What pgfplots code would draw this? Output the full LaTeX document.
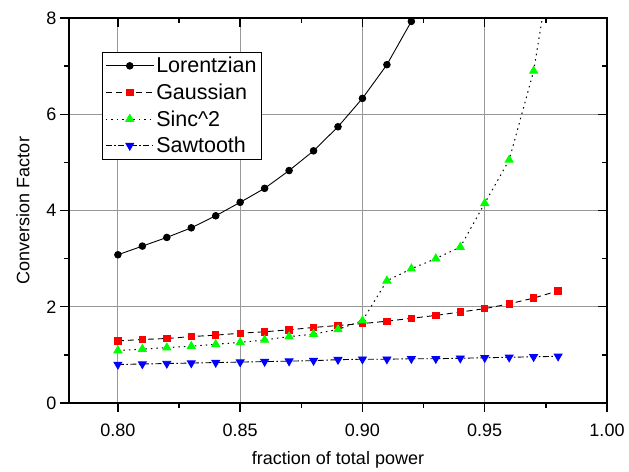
\documentclass[border=0pt]{standalone}
\usepackage{pgfplots}
\pgfplotsset{compat=1.18}
\usepackage{fontspec}
\setmainfont{Liberation Sans}
\begin{document}
\begin{tikzpicture}
\pgfplotsset{
  myaxis/.style={
    width=538pt, height=385pt, scale only axis,
    xmin=0.78, xmax=1.0, ymin=0, ymax=8,
    xtick={0.80,0.85,0.90,0.95,1.00},
    ytick={0,2,4,6,8},
    minor x tick num=1, minor y tick num=1,
    axis line style={line width=1.6pt},
    major tick length=9pt, minor tick length=5pt,
    every tick/.style={black, line width=1.4pt},
    /pgf/number format/assume math mode=true,
    font=\fontsize{18}{21}\selectfont,
  }
}
\begin{axis}[myaxis, name=main,
  xtick pos=bottom, ytick pos=left, tick align=outside,
  grid=major, major grid style={gray!80, line width=0.9pt},
  xticklabel style={yshift=-8pt, /pgf/number format/.cd, fixed, fixed zerofill, precision=2},
  xlabel={fraction of total power}, ylabel={Conversion Factor},
  xlabel style={yshift=-8pt}, ylabel style={yshift=10pt},
  clip=true,
  legend style={at={(0.061,0.912)}, anchor=north west, draw=black, line width=0.9pt,
    font=\fontsize{21.5}{24}\selectfont, row sep=5.5pt, inner sep=3pt,
    cells={anchor=west}},
  legend image code/.code={\draw[mark repeat=2,mark phase=2,#1] plot coordinates {(0pt,0pt) (24pt,0pt) (48pt,0pt)};},
]
\addplot[black, solid, line width=0.9pt, mark=*, mark size=3.3pt, mark options={solid, fill=black}] coordinates {
(0.80,3.08) (0.81,3.26) (0.82,3.44) (0.83,3.64) (0.84,3.89) (0.85,4.17) (0.86,4.46)
(0.87,4.83) (0.88,5.24) (0.89,5.74) (0.90,6.33) (0.91,7.03) (0.92,7.93)};
\addlegendentry{Lorentzian}
\addplot[black, dashed, dash pattern=on 6pt off 4pt, line width=0.9pt, mark=square*, mark size=3.2pt, mark options={solid, fill=red, draw=red}] coordinates {
(0.80,1.29) (0.81,1.32) (0.82,1.34) (0.83,1.38) (0.84,1.41) (0.85,1.45) (0.86,1.48)
(0.87,1.52) (0.88,1.57) (0.89,1.61) (0.90,1.65) (0.91,1.70) (0.92,1.76) (0.93,1.82)
(0.94,1.89) (0.95,1.96) (0.96,2.06) (0.97,2.18) (0.98,2.33)};
\addlegendentry{Gaussian}
\addplot[black, dotted, dash pattern=on 1.5pt off 4pt, line width=1pt, mark=triangle*, mark size=4.5pt, mark options={solid, fill=green, draw=green}] coordinates {
(0.80,1.09) (0.81,1.12) (0.82,1.15) (0.83,1.18) (0.84,1.22) (0.85,1.26) (0.86,1.31)
(0.87,1.38) (0.88,1.43) (0.89,1.53) (0.90,1.71) (0.91,2.54) (0.92,2.79) (0.93,3.00)
(0.94,3.24) (0.95,4.15) (0.96,5.05) (0.97,6.90) (0.98,10.0)};
\addlegendentry{Sinc\^{}2}
\addplot[black, dash pattern=on 6pt off 2.5pt on 1.5pt off 2.5pt, line width=0.9pt, mark=triangle*, mark size=4.5pt, mark options={solid, rotate=180, fill=blue, draw=blue}] coordinates {
(0.80,0.80) (0.81,0.81) (0.82,0.82) (0.83,0.83) (0.84,0.84) (0.85,0.85) (0.86,0.86)
(0.87,0.87) (0.88,0.88) (0.89,0.90) (0.90,0.91) (0.91,0.91) (0.92,0.92) (0.93,0.92)
(0.94,0.93) (0.95,0.94) (0.96,0.95) (0.97,0.96) (0.98,0.97)};
\addlegendentry{Sawtooth}
\end{axis}
\begin{axis}[myaxis,
  xtick pos=top, ytick pos=right, tick align=inside,
  xticklabels={}, yticklabels={}]
\end{axis}
\path ([xshift=-69pt,yshift=-68pt]main.south west) rectangle ([xshift=22pt,yshift=18pt]main.north east);
\end{tikzpicture}
\end{document}
